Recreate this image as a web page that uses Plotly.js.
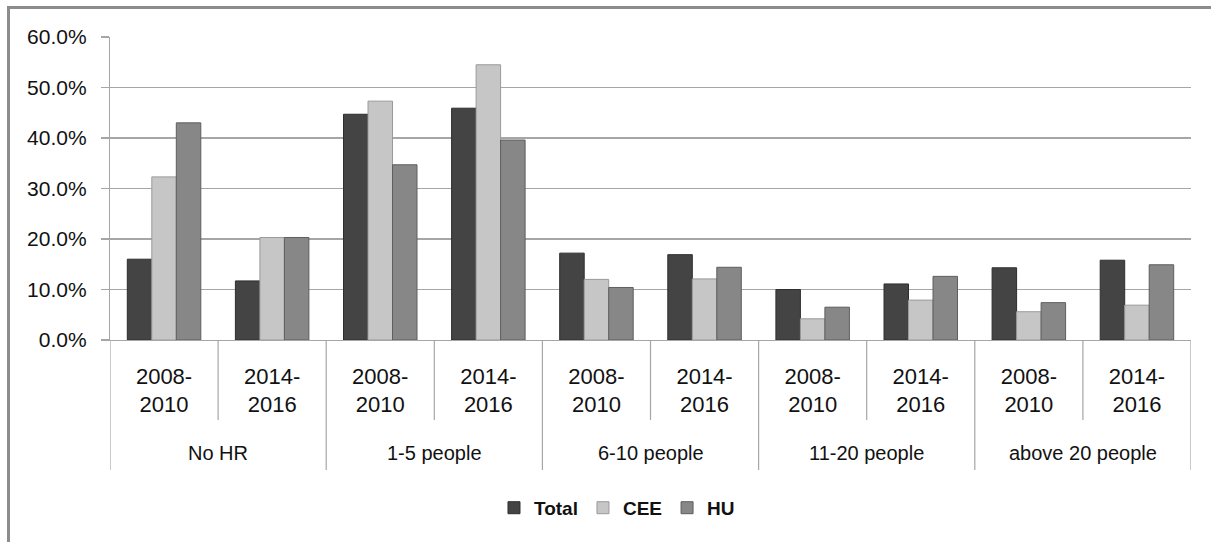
<!DOCTYPE html>
<html>
<head>
<meta charset="utf-8">
<script src="https://cdn.plot.ly/plotly-3.0.1.min.js"></script>
<style>
html,body{margin:0;padding:0;background:#fff;}
#wrap{position:relative;width:1211px;height:542px;overflow:hidden;}
#chart{position:absolute;left:0;top:0;width:1211px;height:542px;}
#frame{position:absolute;left:7px;top:6px;width:1300px;height:600px;border-left:3px solid #8c8c8c;border-top:3px solid #8c8c8c;pointer-events:none;}
</style>
</head>
<body>
<div id="wrap"><div id="chart"></div><div id="frame"></div></div>
<script>
const groups = ['No HR', '1-5 people', '6-10 people', '11-20 people', 'above 20 people'];
const periods = ['2008-<br>2010', '2014-<br>2016'];
const seriesNames = ['Total', 'CEE', 'HU'];
const total = [0.160, 0.117, 0.447, 0.459, 0.172, 0.169, 0.100, 0.111, 0.143, 0.158];
const cee   = [0.323, 0.203, 0.473, 0.545, 0.120, 0.121, 0.042, 0.079, 0.056, 0.069];
const hu    = [0.430, 0.203, 0.347, 0.396, 0.104, 0.144, 0.065, 0.126, 0.074, 0.149];
const seriesValues = [total, cee, hu];
const fillColors = ['#444444', '#c6c6c6', '#878787'];
const lineColors = ['#2e2e2e', '#9a9a9a', '#5e5e5e'];

const xIdx = [];
const tickText = [];
groups.forEach((g, gi) => periods.forEach((p, pi) => { xIdx.push(gi * periods.length + pi); tickText.push(p); }));

const traces = seriesValues.map((vals, i) => ({
  type: 'bar',
  name: seriesNames[i],
  x: xIdx,
  y: vals,
  marker: {color: fillColors[i], line: {color: lineColors[i], width: 1}},
  hoverinfo: 'skip'
}));

const n = xIdx.length;
const yBot = -0.264, yBotGroup = -0.429;
const shapes = [];
for (let k = 0; k <= n; k++) {
  const isGroup = (k % periods.length === 0);
  shapes.push({type: 'line', xref: 'x', yref: 'paper', x0: k - 0.5, x1: k - 0.5, y0: 0, y1: isGroup ? yBotGroup : yBot,
    line: {color: '#a6a6a6', width: 1.2}});
}
const annotations = groups.map((g, gi) => ({
  text: g, xref: 'x', yref: 'paper', x: gi * periods.length + (periods.length - 1) / 2, y: -0.373,
  xanchor: 'center', yanchor: 'middle', showarrow: false,
  font: {family: 'Liberation Sans, Arial, sans-serif', size: 20, color: '#111111'}
}));

const layout = {
  width: 1211, height: 542,
  margin: {l: 110, r: 20, t: 37, b: 202},
  paper_bgcolor: '#ffffff', plot_bgcolor: '#ffffff',
  barmode: 'group', bargap: 0.32, bargroupgap: 0,
  showlegend: true,
  legend: {orientation: 'h', x: 0.469, y: -0.554, xanchor: 'center', yanchor: 'middle',
    font: {family: 'Liberation Sans, Arial, sans-serif', size: 19, color: '#111', weight: 'bold'},
    itemwidth: 30, tracegroupgap: 0},
  xaxis: {
    range: [-0.5, n - 0.5], tickmode: 'array', tickvals: xIdx, ticktext: tickText,
    showgrid: false, zeroline: false, showline: true, linecolor: '#a6a6a6', linewidth: 1.2,
    ticks: '', ticklabelstandoff: 16,
    tickfont: {family: 'Liberation Sans, Arial, sans-serif', size: 22, color: '#111111'}
  },
  yaxis: {
    range: [0, 0.6], dtick: 0.1, tickformat: '.1%',
    showgrid: true, gridcolor: '#a6a6a6', gridwidth: 1.3,
    zeroline: false, showline: true, linecolor: '#a6a6a6', linewidth: 1.2,
    ticks: 'outside', ticklen: 8, tickcolor: '#a6a6a6', tickwidth: 1.2, ticklabelstandoff: 10,
    tickfont: {family: 'Liberation Sans, Arial, sans-serif', size: 21, color: '#111111'}
  },
  shapes: shapes,
  annotations: annotations
};

Plotly.newPlot('chart', traces, layout, {displayModeBar: false, staticPlot: true});
</script>
</body>
</html>
